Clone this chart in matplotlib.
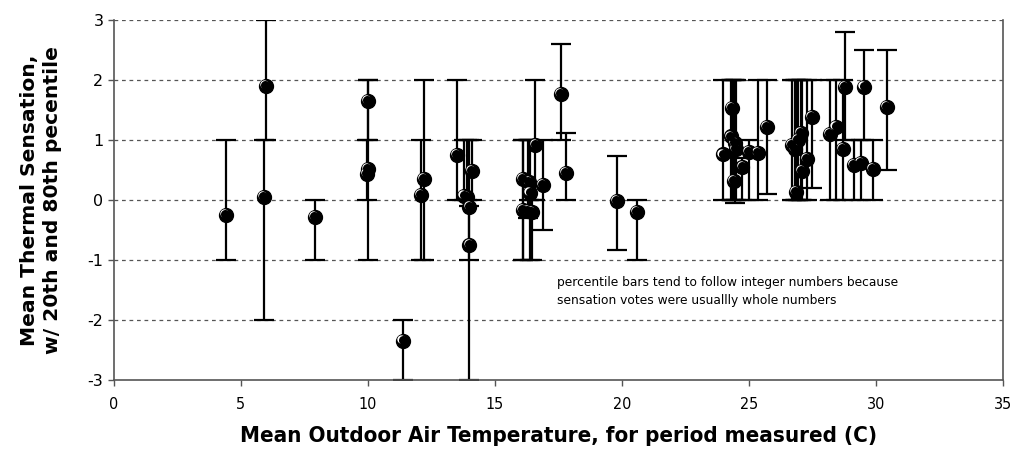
import matplotlib
matplotlib.use("Agg")
import matplotlib.pyplot as plt
import matplotlib.transforms as mtransforms
import numpy as np

plt.rcParams['axes.unicode_minus'] = False

# mean outdoor temperature (C), mean thermal sensation, 20th / 80th percentiles
temp = [4.4, 5.9, 6.0, 7.9, 10.0, 10.0, 9.95, 11.4, 12.2, 12.1,
        13.5, 13.8, 13.9, 14.0, 14.1, 14.0,
        16.1, 16.1, 16.35, 16.4, 16.3, 16.45, 16.6, 16.9, 17.6, 17.8,
        19.8, 20.6,
        24.0, 24.35, 24.3, 24.45, 24.5, 24.75, 24.4, 25.0, 25.35, 25.7,
        26.7, 26.8, 26.85, 26.95, 27.05, 27.1, 27.3, 27.5,
        28.2, 28.45, 28.7, 28.8, 29.15, 29.4, 29.55, 29.9, 30.45]
sensation = [-0.25, 0.05, 1.9, -0.28, 1.65, 0.52, 0.43, -2.35, 0.35, 0.08,
             0.75, 0.07, 0.05, -0.12, 0.48, -0.75,
             0.35, -0.17, 0.3, 0.12, -0.18, -0.2, 0.92, 0.25, 1.77, 0.45,
             -0.02, -0.2,
             0.76, 1.53, 1.06, 0.95, 0.85, 0.55, 0.32, 0.8, 0.78, 1.22,
             0.92, 0.85, 0.13, 1.0, 1.12, 0.48, 0.68, 1.38,
             1.1, 1.22, 0.85, 1.88, 0.58, 0.62, 1.88, 0.52, 1.55]
p20 = [-1, -2, 1, -1, 1, -1, 0, -3, -1, -1,
       0, 0, 0, -1, 0, -3,
       -1, -1, 0, -1, -0.3, -1, 0, -0.5, 1, 0,
       -0.83, -1,
       0, 0, 0, -0.05, 0, 0, 0, 0, 0, 0.1,
       0, 0, 0, 0, 0, 0, 0, 0.2,
       0, 0, 0, 1, 0, 0, 1, 0, 0.5]
p80 = [1, 1, 3, 0, 2, 2, 1, -2, 2, 1,
       2, 1, 1, 1, 1, -0.1,
       1, 1, 1, 1, 1, 0, 2, 1, 2.6, 1.12,
       0.73, 0,
       2, 2, 2, 2, 2, 0.7, 2, 1, 2, 2,
       2, 2, 2, 2, 2, 2, 2, 2,
       2, 2, 2, 2.8, 1, 1, 2.5, 1, 2.5]

note_lines = ["percentile bars tend to follow integer numbers because",
              "sensation votes were usuallly whole numbers"]

x = np.array(temp)
y = np.array(sensation)
yerr = [y - np.array(p20), np.array(p80) - y]

fig = plt.figure(figsize=(10.17, 4.57), dpi=100)
ax = fig.add_axes([0.112, 0.1685, 0.874, 0.7875])

ax.errorbar(x, y, yerr=yerr, fmt='none', ecolor='black', elinewidth=1.6,
            capsize=7.5, capthick=1.6, zorder=2)

# sphere-like markers: black disc with a white crescent highlight
ax.plot(x, y, 'o', color='black', ms=10, zorder=3)
hl = mtransforms.offset_copy(ax.transData, fig=fig, x=-1.4, y=1.4, units='points')
ax.plot(x, y, 'o', color='white', ms=6, mew=0, transform=hl, zorder=4)
sh = mtransforms.offset_copy(ax.transData, fig=fig, x=-0.6, y=0.6, units='points')
ax.plot(x, y, 'o', color='black', ms=6.5, mew=0, transform=sh, zorder=5)

ax.set_xlim(0, 35)
ax.set_ylim(-3, 3)
ax.set_xticks(range(0, 36, 5))
ax.set_yticks(range(-3, 4))

for v in range(-2, 4):
    ax.axhline(v, color='#555555', lw=0.9, ls=(0, (3, 3)), zorder=1)

ax.spines['top'].set_visible(False)
for s in ['left', 'bottom', 'right']:
    ax.spines[s].set_color('#555555')
    ax.spines[s].set_linewidth(1.2)

ax.tick_params(axis='both', direction='out', length=4, color='#555555', width=1)
ax.tick_params(axis='x', pad=8)
for lab in ax.get_xticklabels():
    lab.set_family('DejaVu Sans')
    lab.set_stretch('condensed')
    lab.set_fontsize(11.5)
for lab in ax.get_yticklabels():
    lab.set_family('DejaVu Sans')
    lab.set_fontsize(11.5)

ax.set_xlabel('Mean Outdoor Air Temperature, for period measured (C)',
              family='DejaVu Sans', fontstretch='condensed', fontweight='bold',
              fontsize=16, labelpad=10)
ax.set_ylabel('Mean Thermal Sensation,\nw/ 20th and 80th pecentile',
              family='DejaVu Sans', fontweight='bold', fontsize=14.6,
              linespacing=1.3)
ax.yaxis.set_label_coords(-0.058, 0.5)

for i, line in enumerate(note_lines):
    ax.text(17.44, -1.38 - 0.3 * i, line, fontsize=8.8, family='DejaVu Sans',
            va='center', ha='left')

fig.savefig('out.png', dpi=100)
